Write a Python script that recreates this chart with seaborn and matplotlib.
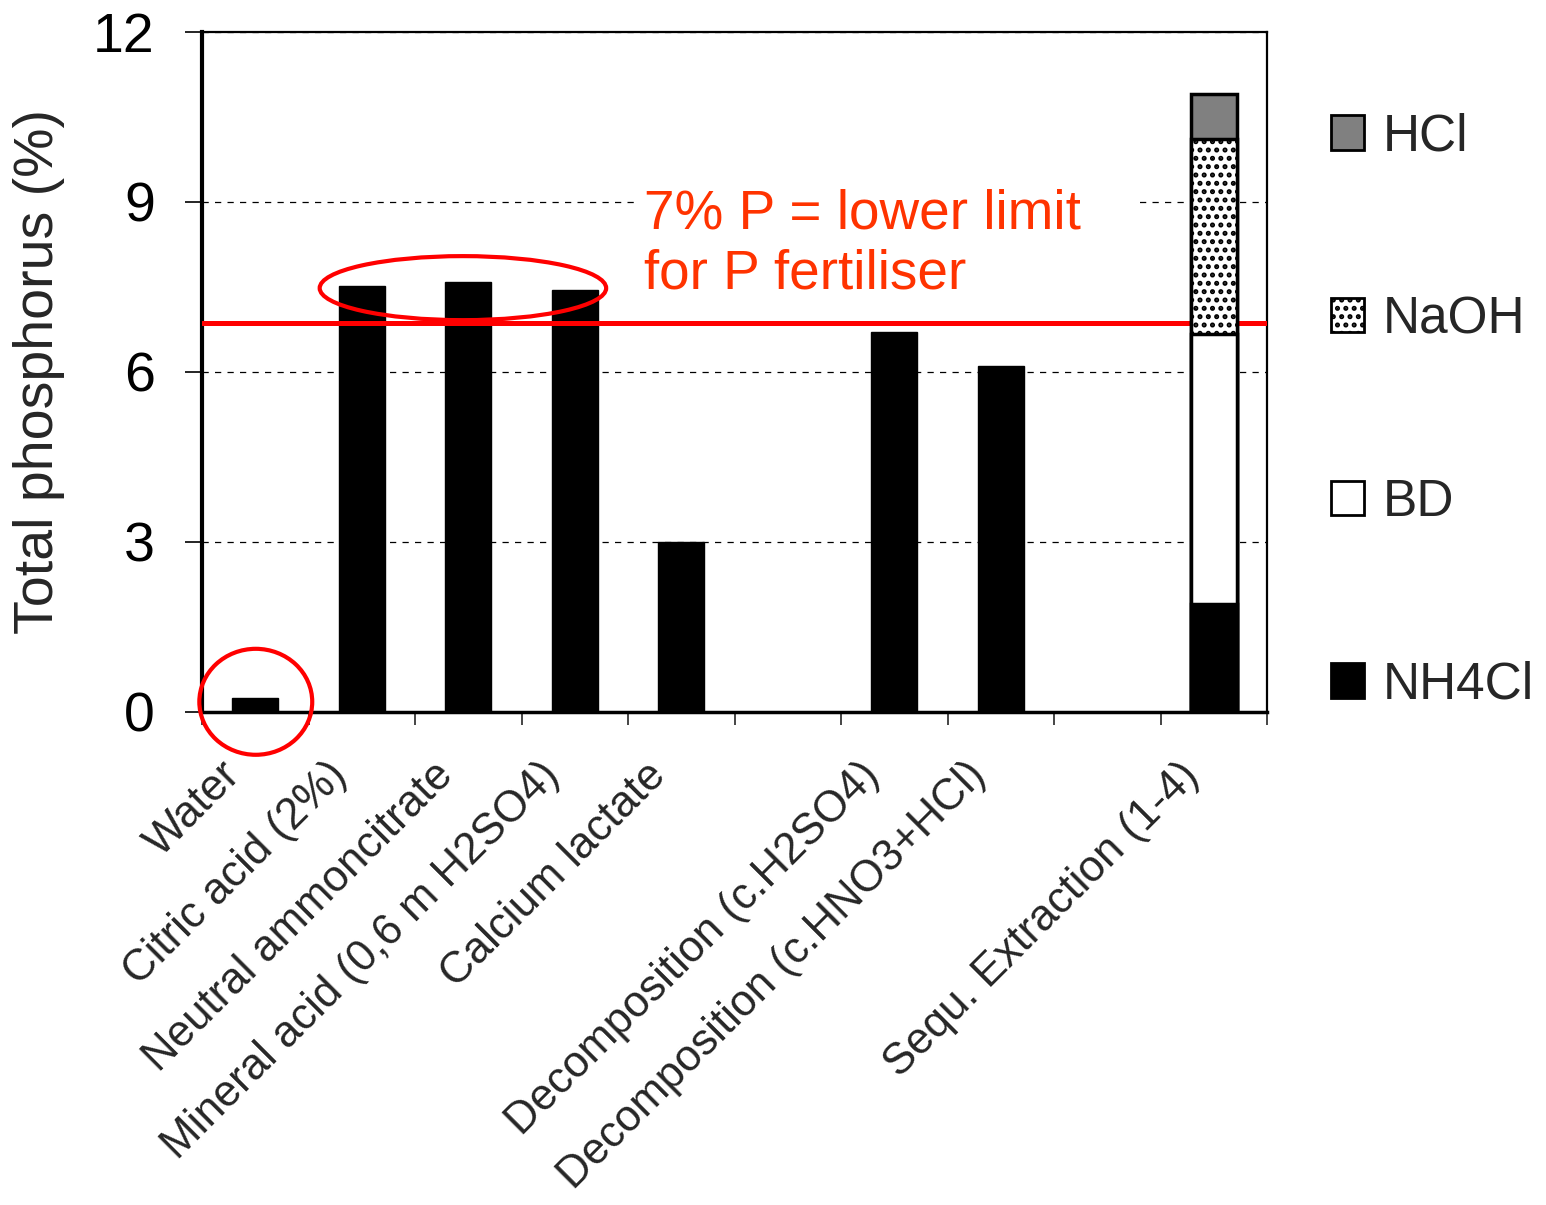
import numpy as np
import pandas as pd
import matplotlib
matplotlib.use("Agg")
import matplotlib.pyplot as plt
from matplotlib.patches import Ellipse, Patch
import seaborn as sns

# extraction methods (blank slots are empty gaps on the axis)
methods = ["Water", "Citric acid (2%)", "Neutral ammoncitrate",
           "Mineral acid (0,6 m H2SO4)", "Calcium lactate", "",
           "Decomposition (c.H2SO4)", "Decomposition (c.HNO3+HCl)", " ",
           "Sequ. Extraction (1-4)"]
total_p = [0.25, 7.51, 7.58, 7.45, 3.0, np.nan, 6.7, 6.1, np.nan, np.nan]

# sequential extraction fractions (bottom -> top)
fractions = ["NH4Cl", "BD", "NaOH", "HCl"]
seq_p = [1.9, 4.77, 3.44, 0.8]
frac_colors = ["black", "white", "white", "#808080"]
frac_hatch = [None, None, "..", None]

p_limit = 6.87
y_ticks = [0, 3, 6, 9, 12]

sns.set_theme(style="white")
plt.rcParams["font.family"] = ["Liberation Sans", "DejaVu Sans"]
plt.rcParams["hatch.linewidth"] = 2.4

fig = plt.figure(figsize=(15.46, 12.05), dpi=100)
ax = fig.add_axes([202 / 1546, 1 - 712 / 1205, (1267 - 202) / 1546, (712 - 32) / 1205])

df = pd.DataFrame({"method": methods, "p": total_p})
sns.barplot(data=df, x="method", y="p", order=methods, color="black",
            saturation=1, width=0.43, edgecolor="black", linewidth=1,
            ax=ax, zorder=2)

# stacked bar: draw cumulative totals from the top layer down
cum = np.cumsum(seq_p)
seq_name = methods[-1]
for i in reversed(range(len(fractions))):
    sns.barplot(x=[seq_name], y=[cum[i]], order=methods, color=frac_colors[i],
                saturation=1, width=0.43, edgecolor="black", linewidth=2.5,
                hatch=frac_hatch[i], ax=ax, zorder=5)

ax.set_xlim(-0.5, 9.5)
ax.set_ylim(0, 12)
ax.set_yticks(y_ticks)
ax.tick_params(axis="y", labelsize=40, length=12, width=1.2, direction="out",
               left=True, pad=22, colors="black")

# boundary ticks on x, labels on shifted minor ticks
ax.set_xticks(np.arange(-0.5, 10, 1), labels=[""] * 11)
ax.tick_params(axis="x", which="major", length=9, width=1.2, direction="out",
               bottom=True)
ax.set_xticks(np.arange(10) - 0.2, labels=methods, minor=True)
ax.tick_params(axis="x", which="minor", length=0, pad=41, labelsize=31.5)
for lab in ax.get_xticklabels(minor=True):
    lab.set_rotation(45)
    lab.set_ha("right")
    lab.set_va("center")
    lab.set_rotation_mode("anchor")

ax.set_xlabel("")
ax.set_ylabel("Total phosphorus (%)", fontsize=40, labelpad=20)

ax.yaxis.grid(True, linestyle=(0, (5, 5)), color="black", linewidth=0.9)
ax.set_axisbelow(True)
for side in ["top", "right"]:
    ax.spines[side].set_linewidth(1.6)
ax.spines["left"].set_linewidth(3)
ax.spines["bottom"].set_linewidth(2.5)
for s in ax.spines.values():
    s.set_color("black")
    s.set_visible(True)

# 7 % limit line and annotation
ax.axhline(p_limit, color="#ff0000", linewidth=3.6, zorder=3)
ax.text(3.65, 8.25, "7% P = lower limit   \nfor P fertiliser", color="#ff3300",
        fontsize=39.5, ha="left", va="center", linespacing=1.22, zorder=4,
        bbox=dict(facecolor="white", edgecolor="none", pad=6))

ax.add_patch(Ellipse((0.005, 0.18), 1.06, 1.87, fill=False, edgecolor="#ff0000",
                     linewidth=3, clip_on=False, zorder=6))
ax.add_patch(Ellipse((1.95, 7.48), 2.69, 1.13, fill=False, edgecolor="#ff0000",
                     linewidth=3, clip_on=False, zorder=6))

handles = [Patch(facecolor=frac_colors[i], edgecolor="black", linewidth=2,
                 hatch=frac_hatch[i], label=fractions[i])
           for i in reversed(range(len(fractions)))]
fig.legend(handles=handles, loc="center left", bbox_to_anchor=(1331 / 1546, 1 - 411 / 1205),
           frameon=False, fontsize=37, handlelength=0.65, handleheight=0.65,
           handletextpad=0.35, labelspacing=2.6, borderpad=0, borderaxespad=0)

fig.savefig("out.png", dpi=100)
